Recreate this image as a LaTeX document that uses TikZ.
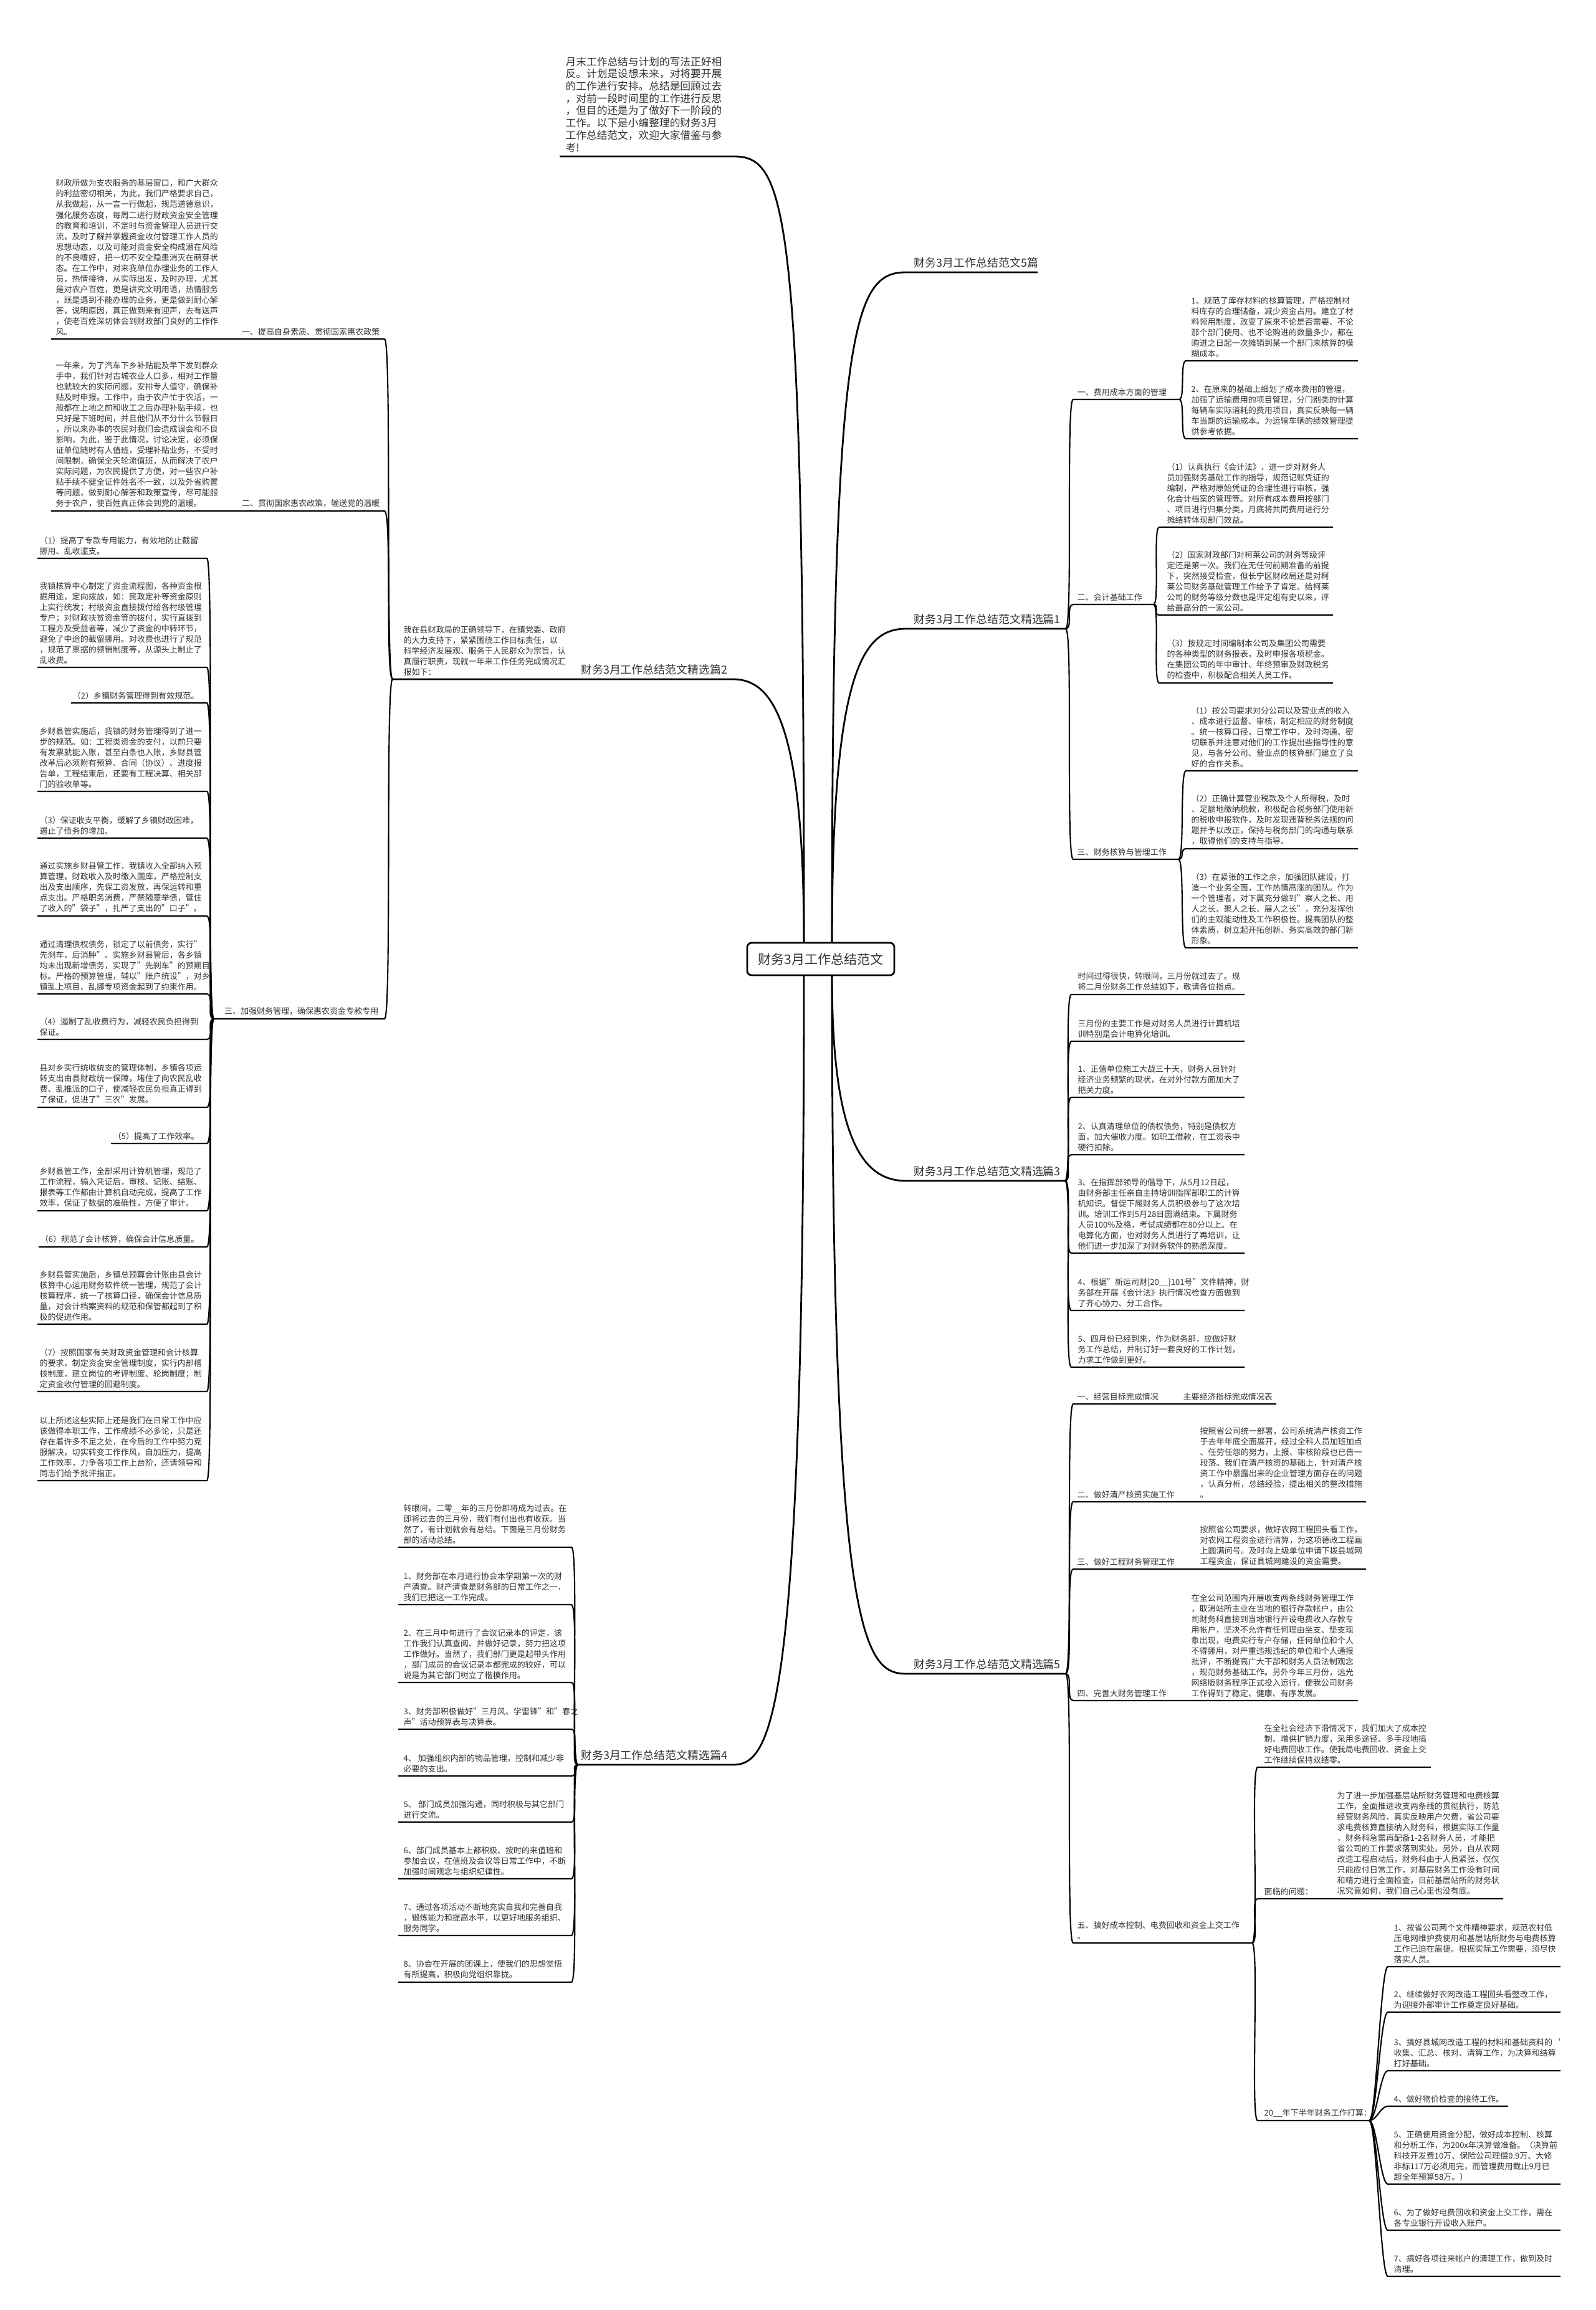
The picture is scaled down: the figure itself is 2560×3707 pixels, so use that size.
\documentclass[tikz,border=0pt]{standalone}
\usepackage{fontspec}
\setmainfont{Noto Sans CJK SC}
\usetikzlibrary{positioning}
\definecolor{inkgray}{RGB}{51,51,51}
\tikzstyle{txt} = [inner sep=0pt, align=left, text=inkgray, font=\fontsize{3.7pt}{4.84pt}\selectfont]
\tikzstyle{introtxt} = [txt, font=\fontsize{4.75pt}{5.6pt}\selectfont]
\tikzstyle{branch} = [inner sep=0pt, text=inkgray, font=\fontsize{5.1pt}{6pt}\selectfont]
\tikzstyle{rootbox} = [draw, line width=0.8pt, rounded corners=2pt, fill=white, text=inkgray, minimum width=2.36cm, minimum height=0.52cm, inner sep=0pt, font=\fontsize{6pt}{7pt}\selectfont]
\tikzstyle{link} = [line width=0.6pt]
\tikzstyle{trunk} = [line width=0.8pt]

\begin{document}
\begin{tikzpicture}[x=0.01cm, y=-0.01cm]

    \useasboundingbox (0,0) rectangle (2560,3707);
    \fill[white] (0,0) rectangle (2560,3707);

    % Root
    \node[rootbox] (root) at (1317,1539) {财务3月工作总结范文};
    \coordinate (rootNW) at (1290,1513);
    \coordinate (rootSW) at (1290,1565);
    \coordinate (rootNE) at (1335,1513);
    \coordinate (rootSE) at (1335,1565);

    % Level 1 ends
    \coordinate (intro-in) at (1177,251); \coordinate (intro-out) at (898,251);
    \coordinate (b0-in) at (1454,437);  \coordinate (b0-out) at (1665,437);
    \coordinate (b1-in) at (1454,1009); \coordinate (b1-out) at (1710,1009);
    \coordinate (b2-in) at (1176,1090); \coordinate (b2-out) at (630,1090);
    \coordinate (b3-in) at (1454,1895); \coordinate (b3-out) at (1709,1895);
    \coordinate (b4-in) at (1176,2832); \coordinate (b4-out) at (927,2832);
    \coordinate (b5-in) at (1454,2686); \coordinate (b5-out) at (1710,2686);

    % Level 1 labels
    \node[introtxt, anchor=south west] (intro) at (907,245) {月末工作总结与计划的写法正好相\\反。计划是设想未来，对将要开展\\的工作进行安排。总结是回顾过去\\，对前一段时间里的工作进行反思\\，但目的还是为了做好下一阶段的\\工作。以下是小编整理的财务3月\\工作总结范文，欢迎大家借鉴与参\\考!};
    \node[branch, anchor=south west] (b0) at (1466,431) {财务3月工作总结范文5篇};
    \node[branch, anchor=south west] (b1) at (1466,1003) {财务3月工作总结范文精选篇1};
    \node[branch, anchor=south east] (b2) at (1168,1084) {财务3月工作总结范文精选篇2};
    \node[txt, anchor=south west] (b2-note) at (647,1085) {我在县财政局的正确领导下，在镇党委、政府\\的大力支持下，紧紧围绕工作目标责任，以\\科学经济发展观、服务于人民群众为宗旨，认\\真履行职责，现就一年来工作任务完成情况汇\\报如下：};
    \node[branch, anchor=south west] (b3) at (1466,1889) {财务3月工作总结范文精选篇3};
    \node[branch, anchor=south east] (b4) at (1168,2826) {财务3月工作总结范文精选篇4};
    \node[branch, anchor=south west] (b5) at (1466,2680) {财务3月工作总结范文精选篇5};

    % Trunk lines
    \draw[trunk] (rootNW) .. controls (1290,330) and (1262,251) .. (intro-in) -- (intro-out);
    \draw[trunk] (rootNW) .. controls (1290,1160) and (1240,1090) .. (b2-in) -- (b2-out);
    \draw[trunk] (rootSW) .. controls (1290,2750) and (1240,2832) .. (b4-in) -- (b4-out);
    \draw[trunk] (rootNE) .. controls (1335,520) and (1370,437) .. (b0-in) -- (b0-out);
    \draw[trunk] (rootNE) .. controls (1335,1075) and (1385,1009) .. (b1-in) -- (b1-out);
    \draw[trunk] (rootSE) .. controls (1335,1830) and (1385,1895) .. (b3-in) -- (b3-out);
    \draw[trunk] (rootSE) .. controls (1335,2620) and (1385,2686) .. (b5-in) -- (b5-out);

    % ---------- Branch 2 (left) ----------
    \coordinate (b2a-in) at (617,544);  \coordinate (b2a-out) at (82,544);
    \coordinate (b2b-in) at (617,820);  \coordinate (b2b-out) at (82,820);
    \coordinate (b2c-in) at (617,1635); \coordinate (b2c-out) at (343,1635);

    \node[txt, anchor=south east] (b2a) at (610,539) {一、提高自身素质、贯彻国家惠农政策};
    \node[txt, anchor=south west] (b2a-note) at (89,539) {财政所做为支农服务的基层窗口，和广大群众\\的利益密切相关，为此，我们严格要求自己，\\从我做起，从一言一行做起，规范道德意识，\\强化服务态度，每周二进行财政资金安全管理\\的教育和培训，不定时与资金管理人员进行交\\流，及时了解并掌握资金收付管理工作人员的\\思想动态，以及可能对资金安全构成潜在风险\\的不良嗜好，把一切不安全隐患消灭在萌芽状\\态。在工作中，对来我单位办理业务的工作人\\员，热情接待，从实际出发，及时办理，尤其\\是对农户百姓，更是讲究文明用语，热情服务\\，既是遇到不能办理的业务，更是做到耐心解\\答，说明原因，真正做到来有迎声，去有送声\\，使老百姓深切体会到财政部门良好的工作作\\风。};
    \node[txt, anchor=south east] (b2b) at (610,815) {二、贯彻国家惠农政策，输送党的温暖};
    \node[txt, anchor=south west] (b2b-note) at (89,815) {一年来，为了汽车下乡补贴能及早下发到群众\\手中，我们针对古城农业人口多，相对工作量\\也就较大的实际问题，安排专人值守，确保补\\贴及时申报。工作中，由于农户忙于农活，一\\般都在上地之前和收工之后办理补贴手续，也\\只好是下班时间，并且他们从不分什么节假日\\，所以来办事的农民对我们会造成误会和不良\\影响，为此，鉴于此情况，讨论决定，必须保\\证单位随时有人值班，受理补贴业务，不受时\\间限制，确保全天轮流值班，从而解决了农户\\实际问题，为农民提供了方便，对一些农户补\\贴手续不健全证件姓名不一致，以及外省购置\\等问题，做到耐心解答和政策宣传，尽可能服\\务于农户，使百姓真正体会到党的温暖。};
    \node[txt, anchor=south east] (b2c) at (608,1630) {三、加强财务管理，确保惠农资金专款专用};

    \draw[link] (b2-out) .. controls +(-12,0) and +(12,0) .. (b2a-in) -- (b2a-out);
    \draw[link] (b2-out) .. controls +(-12,0) and +(12,0) .. (b2b-in) -- (b2b-out);
    \draw[link] (b2-out) .. controls +(-12,0) and +(12,0) .. (b2c-in) -- (b2c-out);

    % children of 三
    \coordinate (c1-in) at (332,896);   \coordinate (c1-out) at (60,896);
    \coordinate (c2-in) at (332,1071);  \coordinate (c2-out) at (60,1071);
    \coordinate (c3-in) at (332,1128);  \coordinate (c3-out) at (114,1128);
    \coordinate (c4-in) at (332,1270);  \coordinate (c4-out) at (60,1270);
    \coordinate (c5-in) at (332,1345);  \coordinate (c5-out) at (60,1345);
    \coordinate (c6-in) at (332,1470);  \coordinate (c6-out) at (60,1470);
    \coordinate (c7-in) at (332,1595);  \coordinate (c7-out) at (60,1595);
    \coordinate (c8-in) at (332,1668);  \coordinate (c8-out) at (60,1668);
    \coordinate (c9-in) at (332,1777);  \coordinate (c9-out) at (60,1777);
    \coordinate (c10-in) at (332,1835); \coordinate (c10-out) at (178,1835);
    \coordinate (c11-in) at (332,1943); \coordinate (c11-out) at (60,1943);
    \coordinate (c12-in) at (332,2001); \coordinate (c12-out) at (62,2001);
    \coordinate (c13-in) at (332,2125); \coordinate (c13-out) at (60,2125);
    \coordinate (c14-in) at (332,2233); \coordinate (c14-out) at (60,2233);
    \coordinate (c15-in) at (332,2376); \coordinate (c15-out) at (60,2376);

    \node[txt, anchor=south west] (c1) at (63,891) {（1）提高了专款专用能力，有效地防止截留\\挪用、乱收滥支。};
    \node[txt, anchor=south west] (c2) at (63,1066) {我镇核算中心制定了资金流程图，各种资金根\\据用途，定向拨放，如：民政定补等资金原则\\上实行统发；村级资金直接拔付给各村级管理\\专户；对财政扶贫资金等的拔付，实行直拨到\\工程方及受益者等，减少了资金的中转环节，\\避免了中途的截留挪用。对收费也进行了规范\\，规范了票据的领销制度等，从源头上制止了\\乱收费。};
    \node[txt, anchor=south east] (c3) at (320,1123) {（2）乡镇财务管理得到有效规范。};
    \node[txt, anchor=south west] (c4) at (63,1265) {乡财县管实施后，我镇的财务管理得到了进一\\步的规范。如：工程类资金的支付，以前只要\\有发票就能入账，甚至白条也入账，乡财县管\\改革后必须附有预算、合同（协议）、进度报\\告单，工程结束后，还要有工程决算、相关部\\门的验收单等。};
    \node[txt, anchor=south west] (c5) at (63,1340) {（3）保证收支平衡，缓解了乡镇财政困难，\\遏止了债务的增加。};
    \node[txt, anchor=south west] (c6) at (63,1465) {通过实施乡财县管工作，我镇收入全部纳入预\\算管理，财政收入及时缴入国库，严格控制支\\出及支出顺序，先保工资发放，再保运转和重\\点支出。严格职务消费，严禁随意举债，管住\\了收入的"袋子"，扎严了支出的"口子"。};
    \node[txt, anchor=south west] (c7) at (63,1590) {通过清理债权债务，锁定了以前债务，实行"\\先刹车，后消肿"。实施乡财县管后，各乡镇\\均未出现新增债务，实现了"先刹车"的预期目\\标。严格的预算管理，辅以"账户统设"，对乡\\镇乱上项目、乱挪专项资金起到了约束作用。};
    \node[txt, anchor=south west] (c8) at (63,1663) {（4）遏制了乱收费行为，减轻农民负担得到\\保证。};
    \node[txt, anchor=south west] (c9) at (63,1772) {县对乡实行统收统支的管理体制，乡镇各项运\\转支出由县财政统一保障，堵住了向农民乱收\\费、乱推派的口子，使减轻农民负担真正得到\\了保证，促进了"三农"发展。};
    \node[txt, anchor=south east] (c10) at (320,1830) {（5）提高了工作效率。};
    \node[txt, anchor=south west] (c11) at (63,1938) {乡财县管工作，全部采用计算机管理，规范了\\工作流程，输入凭证后，审核、记账、结账、\\报表等工作都由计算机自动完成，提高了工作\\效率，保证了数据的准确性，方便了审计。};
    \node[txt, anchor=south east] (c12) at (320,1996) {（6）规范了会计核算，确保会计信息质量。};
    \node[txt, anchor=south west] (c13) at (63,2120) {乡财县管实施后，乡镇总预算会计账由县会计\\核算中心运用财务软件统一管理，规范了会计\\核算程序，统一了核算口径，确保会计信息质\\量，对会计档案资料的规范和保管都起到了积\\极的促进作用。};
    \node[txt, anchor=south west] (c14) at (63,2228) {（7）按照国家有关财政资金管理和会计核算\\的要求，制定资金安全管理制度，实行内部稽\\核制度，建立岗位的考评制度、轮岗制度；制\\定资金收付管理的回避制度。};
    \node[txt, anchor=south west] (c15) at (63,2371) {以上所述这些实际上还是我们在日常工作中应\\该做得本职工作，工作成绩不必多论，只是还\\存在着许多不足之处，在今后的工作中努力克\\服解决，切实转变工作作风，自加压力，提高\\工作效率，力争各项工作上台阶，还请领导和\\同志们给予批评指正。};

    \foreach \c in {c1,c2,c3,c4,c5,c6,c7,c8,c9,c10,c11,c12,c13,c14,c15}
        \draw[link] (b2c-out) .. controls +(-12,0) and +(12,0) .. (\c-in) -- (\c-out);

    % ---------- Branch 4 (left) ----------
    \coordinate (d0-in) at (917,2483); \coordinate (d0-out) at (639,2483);
    \coordinate (d1-in) at (917,2575); \coordinate (d1-out) at (639,2575);
    \coordinate (d2-in) at (917,2700); \coordinate (d2-out) at (639,2700);
    \coordinate (d3-in) at (917,2775); \coordinate (d3-out) at (639,2775);
    \coordinate (d4-in) at (917,2850); \coordinate (d4-out) at (639,2850);
    \coordinate (d5-in) at (917,2924); \coordinate (d5-out) at (639,2924);
    \coordinate (d6-in) at (917,3015); \coordinate (d6-out) at (639,3015);
    \coordinate (d7-in) at (917,3106); \coordinate (d7-out) at (639,3106);
    \coordinate (d8-in) at (917,3181); \coordinate (d8-out) at (639,3181);

    \node[txt, anchor=south west] (d0) at (647,2478) {转眼间，二零\_\_年的三月份即将成为过去。在\\即将过去的三月份，我们有付出也有收获。当\\然了，有计划就会有总结。下面是三月份财务\\部的活动总结。};
    \node[txt, anchor=south west] (d1) at (647,2570) {1、财务部在本月进行协会本学期第一次的财\\产清查。财产清查是财务部的日常工作之一，\\我们已把这一工作完成。};
    \node[txt, anchor=south west] (d2) at (647,2695) {2、在三月中旬进行了会议记录本的评定，该\\工作我们认真查阅、并做好记录，努力把这项\\工作做好。当然了，我们部门更是起带头作用\\，部门成员的会议记录本都完成的较好，可以\\说是为其它部门树立了楷模作用。};
    \node[txt, anchor=south west] (d3) at (647,2770) {3、财务部积极做好"三月风、学雷锋"和"春之\\声"活动预算表与决算表。};
    \node[txt, anchor=south west] (d4) at (647,2845) {4、 加强组织内部的物品管理，控制和减少非\\必要的支出。};
    \node[txt, anchor=south west] (d5) at (647,2919) {5、 部门成员加强沟通，同时积极与其它部门\\进行交流。};
    \node[txt, anchor=south west] (d6) at (647,3010) {6、部门成员基本上都积极、按时的来值班和\\参加会议，在值班及会议等日常工作中，不断\\加强时间观念与组织纪律性。};
    \node[txt, anchor=south west] (d7) at (647,3101) {7、通过各项活动不断地充实自我和完善自我\\，锻炼能力和提高水平，以更好地服务组织、\\服务同学。};
    \node[txt, anchor=south west] (d8) at (647,3176) {8、协会在开展的团课上，使我们的思想觉悟\\有所提高，积极向党组织靠拢。};

    \foreach \d in {d0,d1,d2,d3,d4,d5,d6,d7,d8}
        \draw[link] (b4-out) .. controls +(-12,0) and +(12,0) .. (\d-in) -- (\d-out);

    % ---------- Branch 1 (right) ----------
    \coordinate (b1a-in) at (1722,641);  \coordinate (b1a-out) at (1892,641);
    \coordinate (b1b-in) at (1722,970);  \coordinate (b1b-out) at (1851,970);
    \coordinate (b1c-in) at (1722,1379); \coordinate (b1c-out) at (1891,1379);

    \node[txt, anchor=south west] (b1a) at (1728,636) {一、费用成本方面的管理};
    \node[txt, anchor=south west] (b1b) at (1728,965) {二、会计基础工作};
    \node[txt, anchor=south west] (b1c) at (1728,1374) {三、财务核算与管理工作};

    \draw[link] (b1-out) .. controls +(12,0) and +(-12,0) .. (b1a-in) -- (b1a-out);
    \draw[link] (b1-out) .. controls +(12,0) and +(-12,0) .. (b1b-in) -- (b1b-out);
    \draw[link] (b1-out) .. controls +(12,0) and +(-12,0) .. (b1c-in) -- (b1c-out);

    \coordinate (e1-in) at (1903,579);  \coordinate (e1-out) at (2179,579);
    \coordinate (e2-in) at (1903,704);  \coordinate (e2-out) at (2179,704);
    \node[txt, anchor=south west] (e1) at (1911,574) {1、规范了库存材料的核算管理，严格控制材\\料库存的合理储备，减少资金占用。建立了材\\料领用制度，改变了原来不论是否需要、不论\\那个部门使用、也不论购进的数量多少，都在\\购进之日起一次摊销到某一个部门来核算的模\\糊成本。};
    \node[txt, anchor=south west] (e2) at (1911,699) {2、在原来的基础上细划了成本费用的管理，\\加强了运输费用的项目管理，分门别类的计算\\每辆车实际消耗的费用项目，真实反映每一辆\\车当期的运输成本。为运输车辆的绩效管理提\\供参考依据。};
    \foreach \e in {e1,e2}
        \draw[link] (b1a-out) .. controls +(10,0) and +(-10,0) .. (\e-in) -- (\e-out);

    \coordinate (f1-in) at (1860,846);  \coordinate (f1-out) at (2139,846);
    \coordinate (f2-in) at (1860,987);  \coordinate (f2-out) at (2139,987);
    \coordinate (f3-in) at (1860,1096); \coordinate (f3-out) at (2139,1096);
    \node[txt, anchor=south west] (f1) at (1872,841) {（1）认真执行《会计法》，进一步对财务人\\员加强财务基础工作的指导，规范记账凭证的\\编制，严格对原始凭证的合理性进行审核，强\\化会计档案的管理等。对所有成本费用按部门\\、项目进行归集分类，月底将共同费用进行分\\摊结转体现部门效益。};
    \node[txt, anchor=south west] (f2) at (1872,982) {（2）国家财政部门对柯莱公司的财务等级评\\定还是第一次。我们在无任何前期准备的前提\\下，突然接受检查，但长宁区财政局还是对柯\\莱公司财务基础管理工作给予了肯定。给柯莱\\公司的财务等级分数也是评定组有史以来，评\\给最高分的一家公司。};
    \node[txt, anchor=south west] (f3) at (1872,1091) {（3）按规定时间编制本公司及集团公司需要\\的各种类型的财务报表，及时申报各项税金。\\在集团公司的年中审计、年终预审及财政税务\\的检查中，积极配合相关人员工作。};
    \foreach \f in {f1,f2,f3}
        \draw[link] (b1b-out) .. controls +(10,0) and +(-10,0) .. (\f-in) -- (\f-out);

    \coordinate (g1-in) at (1903,1237); \coordinate (g1-out) at (2179,1237);
    \coordinate (g2-in) at (1903,1362); \coordinate (g2-out) at (2179,1362);
    \coordinate (g3-in) at (1903,1521); \coordinate (g3-out) at (2179,1521);
    \node[txt, anchor=south west] (g1) at (1911,1232) {（1）按公司要求对分公司以及营业点的收入\\、成本进行监督、审核，制定相应的财务制度\\。统一核算口径，日常工作中，及时沟通、密\\切联系并注意对他们的工作提出些指导性的意\\见，与各分公司、营业点的核算部门建立了良\\好的合作关系。};
    \node[txt, anchor=south west] (g2) at (1911,1357) {（2）正确计算营业税款及个人所得税，及时\\、足额地缴纳税款，积极配合税务部门使用新\\的税收申报软件，及时发现违背税务法规的问\\题并予以改正，保持与税务部门的沟通与联系\\，取得他们的支持与指导。};
    \node[txt, anchor=south west] (g3) at (1911,1516) {（3）在紧张的工作之余，加强团队建设，打\\造一个业务全面，工作热情高涨的团队。作为\\一个管理者，对下属充分做到"察人之长、用\\人之长、聚人之长、展人之长"，充分发挥他\\们的主观能动性及工作积极性。提高团队的整\\体素质，树立起开拓创新、务实高效的部门新\\形象。};
    \foreach \g in {g1,g2,g3}
        \draw[link] (b1c-out) .. controls +(10,0) and +(-10,0) .. (\g-in) -- (\g-out);

    % ---------- Branch 3 (right) ----------
    \coordinate (h1-in) at (1719,1596); \coordinate (h1-out) at (1997,1596);
    \coordinate (h2-in) at (1719,1671); \coordinate (h2-out) at (1997,1671);
    \coordinate (h3-in) at (1719,1761); \coordinate (h3-out) at (1997,1761);
    \coordinate (h4-in) at (1719,1853); \coordinate (h4-out) at (1997,1853);
    \coordinate (h5-in) at (1719,2011); \coordinate (h5-out) at (1997,2011);
    \coordinate (h6-in) at (1719,2103); \coordinate (h6-out) at (1997,2103);
    \coordinate (h7-in) at (1719,2194); \coordinate (h7-out) at (1997,2194);

    \node[txt, anchor=south west] (h1) at (1729,1591) {时间过得很快，转眼间，三月份就过去了。现\\将二月份财务工作总结如下，敬请各位指点。};
    \node[txt, anchor=south west] (h2) at (1729,1666) {三月份的主要工作是对财务人员进行计算机培\\训特别是会计电算化培训。};
    \node[txt, anchor=south west] (h3) at (1729,1756) {1、正值单位施工大战三十天，财务人员针对\\经济业务频繁的现状，在对外付款方面加大了\\把关力度。};
    \node[txt, anchor=south west] (h4) at (1729,1848) {2、认真清理单位的债权债务，特别是债权方\\面，加大催收力度。如职工借款，在工资表中\\硬行扣除。};
    \node[txt, anchor=south west] (h5) at (1729,2006) {3、在指挥部领导的倡导下，从5月12日起，\\由财务部主任亲自主持培训指挥部职工的计算\\机知识。督促下属财务人员积极参与了这次培\\训。培训工作到5月28日圆满结束。下属财务\\人员100\%及格，考试成绩都在80分以上。在\\电算化方面，也对财务人员进行了再培训，让\\他们进一步加深了对财务软件的熟悉深度。};
    \node[txt, anchor=south west] (h6) at (1729,2098) {4、根据"新运司财[20\_\_]101号"文件精神，财\\务部在开展《会计法》执行情况检查方面做到\\了齐心协力、分工合作。};
    \node[txt, anchor=south west] (h7) at (1729,2189) {5、四月份已经到来，作为财务部，应做好财\\务工作总结，并制订好一套良好的工作计划，\\力求工作做到更好。};

    \foreach \h in {h1,h2,h3,h4,h5,h6,h7}
        \draw[link] (b3-out) .. controls +(12,0) and +(-12,0) .. (\h-in) -- (\h-out);

    % ---------- Branch 5 (right) ----------
    \coordinate (k1-in) at (1722,2253); \coordinate (k1-out) at (2048,2253);
    \coordinate (k2-in) at (1722,2410); \coordinate (k2-out) at (2192,2410);
    \coordinate (k3-in) at (1722,2518); \coordinate (k3-out) at (2192,2518);
    \coordinate (k4-in) at (1722,2729); \coordinate (k4-out) at (2179,2729);
    \coordinate (k5-in) at (1722,3118); \coordinate (k5-out) at (2009,3118);

    \node[txt, anchor=south west] (k1) at (1728,2248) {一、经营目标完成情况};
    \node[txt, anchor=south west] (k1-note) at (1898,2248) {主要经济指标完成情况表};
    \node[txt, anchor=south west] (k2) at (1728,2405) {二、做好清产核资实施工作};
    \node[txt, anchor=south west] (k2-note) at (1925,2405) {按照省公司统一部署，公司系统清产核资工作\\于去年年底全面展开，经过全科人员加班加点\\、任劳任怨的努力，上报、审核阶段也已告一\\段落。我们在清产核资的基础上，针对清产核\\资工作中暴露出来的企业管理方面存在的问题\\，认真分析，总结经验，提出相关的整改措施\\。};
    \node[txt, anchor=south west] (k3) at (1728,2513) {三、做好工程财务管理工作};
    \node[txt, anchor=south west] (k3-note) at (1925,2513) {按照省公司要求，做好农网工程回头看工作，\\对农网工程资金进行清算，为这项德政工程画\\上圆满问号。及时向上级单位申请下拨县城网\\工程资金，保证县城网建设的资金需要。};
    \node[txt, anchor=south west] (k4) at (1728,2724) {四、完善大财务管理工作};
    \node[txt, anchor=south west] (k4-note) at (1911,2724) {在全公司范围内开展收支两条线财务管理工作\\，取消站所主业在当地的银行存款帐户，由公\\司财务科直接到当地银行开设电费收入存款专\\用帐户，坚决不允许有任何理由坐支、垫支现\\象出现，电费实行专户存储，任何单位和个人\\不得挪用，对严重违规违纪的单位和个人通报\\批评，不断提高广大干部和财务人员法制观念\\，规范财务基础工作。另外今年三月份，远光\\网络版财务程序正式投入运行，使我公司财务\\工作得到了稳定、健康、有序发展。};
    \node[txt, anchor=south west] (k5) at (1728,3113) {五、搞好成本控制、电费回收和资金上交工作\\。};

    \foreach \k in {k1,k2,k3,k4,k5}
        \draw[link] (b5-out) .. controls +(12,0) and +(-12,0) .. (\k-in) -- (\k-out);

    % children of 五
    \coordinate (m1-in) at (2018,2836); \coordinate (m1-out) at (2296,2836);
    \coordinate (m2-in) at (2018,3047); \coordinate (m2-out) at (2412,3047);
    \coordinate (m3-in) at (2018,3403); \coordinate (m3-out) at (2197,3403);

    \node[txt, anchor=south west] (m1) at (2028,2831) {在全社会经济下滑情况下，我们加大了成本控\\制、增供扩销力度，采用多途径、多手段地搞\\好电费回收工作。使我局电费回收、资金上交\\工作继续保持双结零。};
    \node[txt, anchor=south west] (m2) at (2028,3042) {面临的问题：};
    \node[txt, anchor=south west] (m2-note) at (2145,3042) {为了进一步加强基层站所财务管理和电费核算\\工作，全面推进收支两条线的贯彻执行，防范\\经营财务风险，真实反映用户欠费，省公司要\\求电费核算直接纳入财务科，根据实际工作量\\，财务科急需再配备1-2名财务人员，才能把\\省公司的工作要求落到实处。另外，自从农网\\改造工程启动后，财务科由于人员紧张，仅仅\\只能应付日常工作，对基层财务工作没有时间\\和精力进行全面检查，目前基层站所的财务状\\况究竟如何，我们自己心里也没有底。};
    \node[txt, anchor=south west] (m3) at (2028,3398) {20\_\_年下半年财务工作打算：};

    \foreach \m in {m1,m2,m3}
        \draw[link] (k5-out) .. controls +(12,0) and +(-12,0) .. (\m-in) -- (\m-out);

    % plan items
    \coordinate (p1-in) at (2227,3156); \coordinate (p1-out) at (2504,3156);
    \coordinate (p2-in) at (2227,3229); \coordinate (p2-out) at (2504,3229);
    \coordinate (p3-in) at (2227,3323); \coordinate (p3-out) at (2504,3323);
    \coordinate (p4-in) at (2227,3380); \coordinate (p4-out) at (2420,3380);
    \coordinate (p5-in) at (2227,3505); \coordinate (p5-out) at (2504,3505);
    \coordinate (p6-in) at (2227,3579); \coordinate (p6-out) at (2504,3579);
    \coordinate (p7-in) at (2227,3653); \coordinate (p7-out) at (2504,3653);

    \node[txt, anchor=south west] (p1) at (2236,3151) {1、按省公司两个文件精神要求，规范农村低\\压电网维护费使用和基层站所财务与电费核算\\工作已迫在眉捷。根据实际工作需要，须尽快\\落实人员。};
    \node[txt, anchor=south west] (p2) at (2236,3224) {2、继续做好农网改造工程回头看整改工作，\\为迎接外部审计工作奠定良好基础。};
    \node[txt, anchor=south west] (p3) at (2236,3318) {3、搞好县城网改造工程的材料和基础资料的`\\收集、汇总、核对、清算工作，为决算和结算\\打好基础。};
    \node[txt, anchor=south west] (p4) at (2236,3375) {4、做好物价检查的接待工作。};
    \node[txt, anchor=south west] (p5) at (2236,3500) {5、正确使用资金分配，做好成本控制、核算\\和分析工作，为200x年决算做准备。（决算前\\科技开发费10万、保险公司理偿0.9万、大修\\非标117万必须用完，而管理费用截止9月已\\超全年预算58万。）};
    \node[txt, anchor=south west] (p6) at (2236,3574) {6、为了做好电费回收和资金上交工作，需在\\各专业银行开设收入账户。};
    \node[txt, anchor=south west] (p7) at (2236,3648) {7、搞好各项往来帐户的清理工作，做到及时\\清理。};

    \foreach \p in {p1,p2,p3,p4,p5,p6,p7}
        \draw[link] (m3-out) .. controls +(12,0) and +(-12,0) .. (\p-in) -- (\p-out);

\end{tikzpicture}
\end{document}
